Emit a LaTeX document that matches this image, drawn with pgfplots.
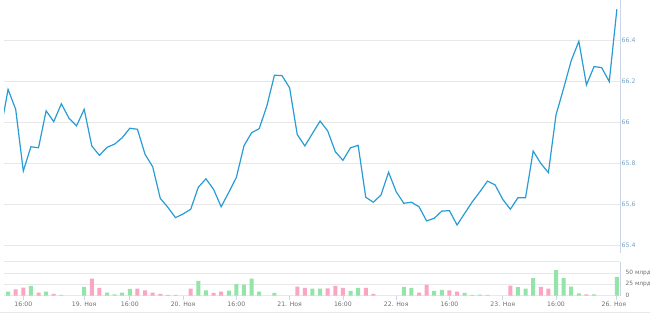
\documentclass[border=0pt]{standalone}
\usepackage{fontspec}
\setmainfont{DejaVu Sans}
\usepackage{pgfplots}
\pgfplotsset{compat=1.18}
\definecolor{linec}{RGB}{40,156,212}
\definecolor{greenc}{RGB}{146,228,168}
\definecolor{pinkc}{RGB}{250,165,193}
\definecolor{gridc}{RGB}{232,232,232}
\definecolor{axisc}{RGB}{204,214,235}
\definecolor{plab}{RGB}{118,160,200}
\definecolor{glab}{RGB}{110,110,110}
\begin{document}
\begin{tikzpicture}
\useasboundingbox (0,0) rectangle (650bp,313bp);
\begin{axis}[
  at={(4bp,60bp)}, anchor=south west, scale only axis,
  width=616bp, height=253bp,
  xmin=-0.536, xmax=80.41, ymin=65.364, ymax=66.595,
  axis x line=none, axis y line*=right,
  axis line style={draw=axisc, line width=0.8bp},
  xtick=\empty,
  ytick={65.4,65.6,65.8,66,66.2,66.4},
  yticklabels={65.4,65.6,65.8,66,66.2,66.4},
  ymajorgrids, grid style={draw=gridc, line width=0.8bp},
  major tick length=0pt,
  yticklabel style={font=\fontsize{6.2}{7}\selectfont, text=plab, anchor=west, inner sep=0pt, xshift=1.5bp},
  clip=true,
]
\addplot[linec, line width=1.2bp, mark=none] coordinates {
(-1,65.957)(0,66.16)(1,66.063)(2,65.763)(3,65.881)(4,65.876)(5,66.056)(6,66.003)(7,66.09)(8,66.02)(9,65.983)
(10,66.063)(11,65.885)(12,65.839)(13,65.878)(14,65.894)(15,65.925)(16,65.971)(17,65.966)(18,65.844)(19,65.784)
(20,65.630)(21,65.586)(22,65.536)(23,65.554)(24,65.577)(25,65.684)(26,65.725)(27,65.674)(28,65.589)(29,65.659)
(30,65.732)(31,65.886)(32,65.949)(33,65.969)(34,66.079)(35,66.229)(36,66.227)(37,66.167)(38,65.940)(39,65.885)
(40,65.946)(41,66.006)(42,65.958)(43,65.857)(44,65.815)(45,65.876)(46,65.888)(47,65.635)(48,65.611)(49,65.646)
(50,65.757)(51,65.662)(52,65.606)(53,65.611)(54,65.589)(55,65.520)(56,65.533)(57,65.568)(58,65.570)(59,65.500)
(60,65.557)(61,65.613)(62,65.662)(63,65.714)(64,65.695)(65,65.625)(66,65.577)(67,65.633)(68,65.633)(69,65.860)
(70,65.800)(71,65.755)(72,66.036)(73,66.165)(74,66.30)(75,66.394)(76,66.182)(77,66.271)(78,66.266)(79,66.198)
(80,66.55)
};
\end{axis}
\begin{axis}[
  at={(4bp,17.3bp)}, anchor=south west, scale only axis,
  width=616bp, height=34bp,
  xmin=-0.536, xmax=80.41, ymin=0, ymax=75,
  axis x line*=bottom, axis y line*=right,
  axis line style={draw=axisc, line width=0.8bp},
  x axis line style={draw=gridc},
  ytick={0,25,50,75},
  yticklabels={0,25 млрд,50 млрд,{}},
  ymajorgrids, grid style={draw=gridc, line width=0.8bp},
  ytick style={draw=none},
  yticklabel style={font=\fontsize{5.9}{7}\selectfont, text=glab, anchor=west, inner sep=0pt, xshift=1.5bp},
  xtick={2,10,16,23,30,37,44,51,58,65,72,80},
  xticklabels={16:00,19. Ноя,16:00,20. Ноя,16:00,21. Ноя,16:00,22. Ноя,16:00,23. Ноя,16:00,{\hspace*{-6bp}26. Ноя}},
  tick align=outside,
  xtick style={draw=axisc, line width=0.8bp},
  major tick length=4bp,
  xticklabel style={font=\fontsize{6.2}{7}\selectfont, text=glab, inner sep=0pt, yshift=-2bp},
  clip=true,
]
\addplot[ybar, bar width=4bp, bar shift=0pt, fill=greenc, draw=none] coordinates {
(0,9.0)(3,21.6)(5,9.0)(7,1.6)(10,19.4)(13,6.7)(14,3.1)(15,6.7)(16,14.9)(25,32.8)(26,12)(29,11.2)
(30,25.4)(31,24.5)(32,37.9)(33,9)(35,6)(40,15.6)(41,15.6)(45,10.5)(46,17.2)(52,19.4)(53,17.2)(56,10.5)
(57,12.7)(60,6)(61,1.6)(62,2.3)(63,1.6)(67,18.7)(68,15.6)(69,38.8)(72,56.6)(73,38.8)(74,20.1)(75,5.3)
(77,3.1)(80,41.7)
};
\addplot[ybar, bar width=4bp, bar shift=0pt, fill=pinkc, draw=none] coordinates {
(1,14.2)(2,17.9)(4,6.7)(6,3.8)(11,37.9)(12,17.2)(17,15.6)(18,12)(19,6.7)(20,3.8)(21,1.6)(22,1.6)
(24,15.6)(27,6)(28,9)(38,20.1)(39,17.2)(42,16.4)(43,21.6)(44,17.2)(47,17.2)(48,3.8)(54,6.7)(55,23.9)
(58,12)(59,9)(66,22.3)(70,19.4)(71,15.6)(76,3.1)
};
\end{axis}
\draw[gridc, line width=0.8bp] (0,0.8bp) -- (650bp,0.8bp);
\end{tikzpicture}
\end{document}
